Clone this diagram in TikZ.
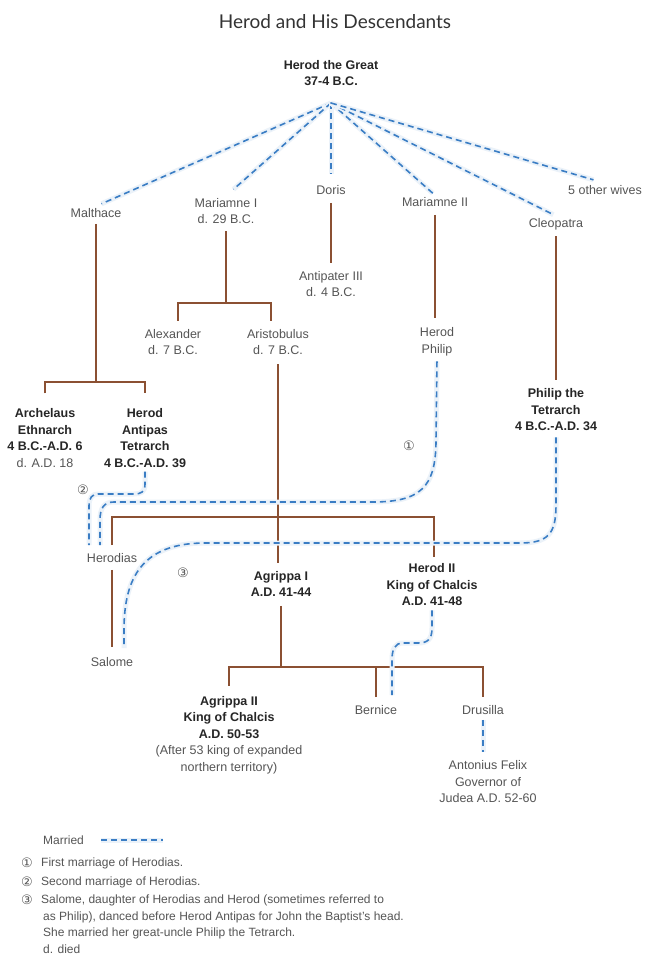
\documentclass[tikz,border=0pt]{standalone}
\usepackage{fontspec}
\setmainfont{Liberation Sans}
\newfontfamily\circfont{DejaVu Sans}
\newfontfamily\titlefont{Lato}
\definecolor{kinbrown}{RGB}{139,80,50}
\definecolor{marblue}{RGB}{58,125,196}
\definecolor{txtgray}{RGB}{85,85,85}
\newcommand\hb[1]{\textcolor{black!85}{\bfseries #1}}
\tikzset{
  lbl/.style={align=center, font=\fontsize{12.5}{16.5}\selectfont, text=txtgray, inner sep=2pt},
  blbl/.style={lbl, font=\fontsize{12.5}{16.5}\selectfont\bfseries, text=black!85},
  leg/.style={anchor=west, font=\fontsize{12}{14}\selectfont, text=txtgray, inner sep=0pt},
  titlel/.style={font=\titlefont\fontsize{19}{22}\selectfont, text=black!80},
  kin/.style={draw=kinbrown, line width=1.5pt},
  married/.style={draw=marblue, line width=1.6pt, dash pattern=on 6pt off 4pt,
    preaction={draw=marblue!10, line width=5pt, solid}},
  circ/.style={font=\circfont\fontsize{13}{13}\selectfont, text=txtgray, inner sep=0pt},
}
\begin{document}
\begin{tikzpicture}[x=1pt,y=-1pt]
\useasboundingbox (0,0) rectangle (647,956);
\fill[white] (0,0) rectangle (647,956);

% title
\node[titlel] (title) at (335,22) {Herod and His Descendants};

% nodes
\node[blbl] (herod) at (331,73) {Herod the Great\\37-4 B.C.};
\node[lbl] (malthace) at (96,213) {Malthace};
\node[lbl] (mar1) at (226,211) {Mariamne I\\d. 29 B.C.};
\node[lbl] (doris) at (331,190) {Doris};
\node[lbl] (mar2) at (435,202) {Mariamne II};
\node[lbl] (cleo) at (556,224) {Cleopatra};
\node[lbl] (other) at (605,190) {5 other wives};
\node[lbl] (antipater) at (331,284) {Antipater III\\d. 4 B.C.};
\node[lbl] (alex) at (173,342) {Alexander\\d. 7 B.C.};
\node[lbl] (aristo) at (278,342) {Aristobulus\\d. 7 B.C.};
\node[lbl] (hphilip) at (437,342) {Herod\\Philip};
\node[blbl] (ptet) at (556,410) {Philip the\\Tetrarch\\4 B.C.-A.D. 34};
\node[lbl] (arch) at (45,438) {\hb{Archelaus}\\\hb{Ethnarch}\\\hb{4 B.C.-A.D. 6}\\d. A.D. 18};
\node[blbl] (antipas) at (145,438) {Herod\\Antipas\\Tetrarch\\4 B.C.-A.D. 39};
\node[lbl] (herodias) at (112,558) {Herodias};
\node[blbl] (agrippa1) at (281,584) {Agrippa I\\A.D. 41-44};
\node[blbl] (herod2) at (432,585) {Herod II\\King of Chalcis\\A.D. 41-48};
\node[lbl] (salome) at (112,662) {Salome};
\node[lbl] (agrippa2) at (229,735) {\hb{Agrippa II}\\\hb{King of Chalcis}\\\hb{A.D. 50-53}\\(After 53 king of expanded\\northern territory)};
\node[lbl] (bernice) at (376,710) {Bernice};
\node[lbl] (drusilla) at (483,710) {Drusilla};
\node[lbl] (felix) at (488,782) {Antonius Felix\\Governor of\\Judea A.D. 52-60};

% circled markers
\node[circ] (c1) at (409,446) {①};
\node[circ] (c2) at (83,490) {②};
\node[circ] (c3) at (183,573) {③};

% junction coordinates
\coordinate (apex) at (331,103);
\coordinate (j1) at (96,382);
\coordinate (j2) at (226,303);
\coordinate (j3) at (278,517);
\coordinate (j4) at (281,667);

% fan of marriages of Herod the Great
\draw[married, shorten >=6pt] (apex) -- (malthace.north);
\draw[married, shorten >=10pt] (apex) -- (mar1.north);
\draw[married, shorten >=9pt] (apex) -- (doris.north);
\draw[married, shorten >=3pt] (apex) -- (mar2.north);
\draw[married, shorten >=3pt] (apex) -- (cleo.north);
\draw[married, shorten >=12pt] (apex) -- (other.north);

% kinship lines
\draw[kin, shorten <=4pt] (malthace.south) -- (j1);
\draw[kin, shorten <=13pt, shorten >=13pt] (arch.north) |- (j1) -| (antipas.north);
\draw[kin, shorten <=5pt] (mar1.south) -- (j2);
\draw[kin, shorten <=6pt, shorten >=6pt] ([xshift=5pt]alex.north) |- (j2) -| ([xshift=-7pt]aristo.north);
\draw[kin, shorten <=6pt, shorten >=6pt] (doris.south) -- (antipater.north);
\draw[kin, shorten <=6pt, shorten >=8pt] (mar2.south) -- (mar2.south |- hphilip.north);
\draw[kin, shorten <=4pt, shorten >=7pt] (cleo.south) -- (ptet.north);
\draw[kin, shorten <=7pt, shorten >=6pt] (aristo.south) -- (aristo.south |- agrippa1.north);
\draw[kin, shorten <=6pt, shorten >=5pt] (herodias.north) |- (j3) -| ([xshift=2pt]herod2.north);
\draw[kin, shorten <=5pt, shorten >=8pt] (herodias.south) -- (salome.north);
\draw[kin, shorten <=7pt] (agrippa1.south) -- (j4);
\draw[kin, shorten <=8pt, shorten >=6pt] (agrippa2.north) |- (j4) -| (drusilla.north);
\draw[kin, shorten <=6pt] (bernice.north) -- (bernice.north |- j4);

% marriages
\coordinate (h1) at (100,545);
\coordinate (h2) at (89,545);
\coordinate (s1) at (124,648);
\coordinate (b1) at (392,695);
% (1) Herod Philip - Herodias
\draw[married, shorten <=3pt] (hphilip.south) -- (436,440) .. controls (436,488) and (420,502) .. (372,502)
  -- (114,502) .. controls (104,502) and (100,508) .. (100,520) -- (h1);
% (2) Herod Antipas - Herodias
\draw[married, shorten <=2pt] (antipas.south) -- (145,484) .. controls (145,492) and (141,494) .. (134,494)
  -- (98,494) .. controls (92,494) and (89,498) .. (89,506) -- (h2);
% (3) Philip the Tetrarch - Salome
\draw[married, shorten <=4pt] (ptet.south) -- (556,505) .. controls (556,534) and (548,543) .. (520,543)
  -- (205,543) .. controls (142,543) and (124,578) .. (124,630) -- (s1);
% Herod II - Bernice
\draw[married, shorten <=2pt] (herod2.south) -- (432,628) .. controls (432,639) and (428,643) .. (418,643)
  -- (403,643) .. controls (395,643) and (392,649) .. (392,660) -- (b1);
% Drusilla - Antonius Felix
\draw[married, shorten <=3pt, shorten >=7pt] (drusilla.south) -- (drusilla.south |- felix.north);

% legend
\node[leg] (lmar) at (43,840) {Married};
\coordinate (ld1) at (101,840);
\coordinate (ld2) at (163,840);
\draw[married] (ld1) -- (ld2);
\node[circ] (l1c) at (27,863) {①};
\node[leg] (l1) at (41,863) {First marriage of Herodias.};
\node[circ] (l2c) at (27,882) {②};
\node[leg] (l2) at (41,882) {Second marriage of Herodias.};
\node[circ] (l3c) at (27,900) {③};
\node[leg] (l3) at (41,900) {Salome, daughter of Herodias and Herod (sometimes referred to};
\node[leg] (l4) at (43,917) {as Philip), danced before Herod Antipas for John the Baptist's head.};
\node[leg] (l5) at (43,933) {She married her great-uncle Philip the Tetrarch.};
\node[leg] (l6) at (43,949) {d. died};
\end{tikzpicture}
\end{document}
